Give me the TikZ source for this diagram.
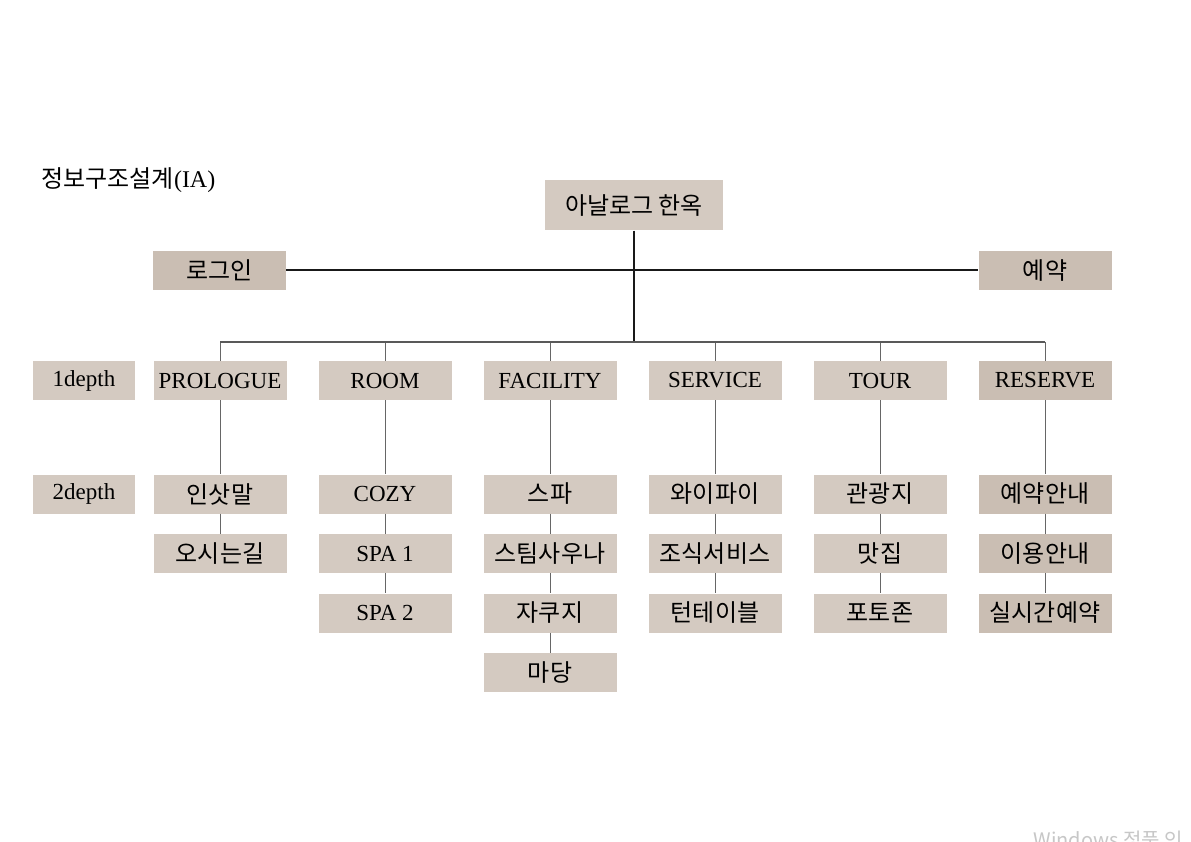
\documentclass[tikz,border=0pt]{standalone}
\usepackage{fontspec}
\setmainfont{Liberation Serif}
\newfontfamily\kr{Noto Sans CJK KR}
\usetikzlibrary{calc}
\definecolor{hanok}{RGB}{212,202,193}
\definecolor{hanokdark}{RGB}{202,190,179}
\tikzset{
  box/.style={fill=hanok, minimum width=133pt, minimum height=39pt, inner sep=0pt},
  kor/.style={font=\kr\fontsize{24}{28}\selectfont},
  lat/.style={font=\fontsize{23}{27}\selectfont},
  trunk/.style={line width=2pt, black!90},
  link/.style={line width=1pt, black!60},
  bus/.style={line width=1.5pt, black!65}
}
\begin{document}
\begin{tikzpicture}[x=1pt, y=-1pt]
  \clip (0,0) rectangle (1191,842);
  \fill[white] (0,0) rectangle (1191,842);
  % Title and top of the tree
  \node[kor, anchor=west] (title) at (38,180) {정보구조설계{\rmfamily(IA)}};
  \node[box, kor, minimum width=178pt, minimum height=50pt] (root) at (634,205.5) {아날로그 한옥};
  \node[box, kor, fill=hanokdark] (login) at (219.5,270.5) {로그인};
  \node[box, kor, fill=hanokdark] (book) at (1045,270.5) {예약};
  \node[box, lat, minimum width=102pt] (d1) at (84,380.5) {1depth};
  \node[box, lat, minimum width=102pt] (d2) at (84,494) {2depth};
  \coordinate (bus) at (634,342);
  \draw[trunk] (login) -- (book);
  \draw[trunk] (root) -- (bus);
  % Columns
  \foreach \col/\head/\kids/\shade/\fnt [count=\i from 0] in {
      pro/PROLOGUE/{인삿말,오시는길}/hanok/kor,
      room/ROOM/{COZY,SPA 1,SPA 2}/hanok/lat,
      fac/FACILITY/{스파,스팀사우나,자쿠지,마당}/hanok/kor,
      serv/SERVICE/{와이파이,조식서비스,턴테이블}/hanok/kor,
      tour/TOUR/{관광지,맛집,포토존}/hanok/kor,
      res/RESERVE/{예약안내,이용안내,실시간예약}/hanokdark/kor}{
    \node[box, lat, fill=\shade, alias=\col-0] (\col) at (220+165*\i,380.5) {\head};
    \draw[link] (\col) -- (\col |- bus);
    \foreach \kid [count=\k, remember=\k as \prev (initially 0)] in \kids {
      \node[box, \fnt, fill=\shade] (\col-\k) at (220+165*\i,434.5+59.5*\k) {\kid};
      \draw[link] (\col-\prev) -- (\col-\k);
    }
  }
  \draw[bus] (pro |- bus) -- (res |- bus);
  % Watermark at the lower edge
  \node[kor, anchor=base west, text=black!22, font=\kr\fontsize{20}{24}\selectfont] (mark) at (1030,847) {Windows 정품 인};
\end{tikzpicture}
\end{document}
